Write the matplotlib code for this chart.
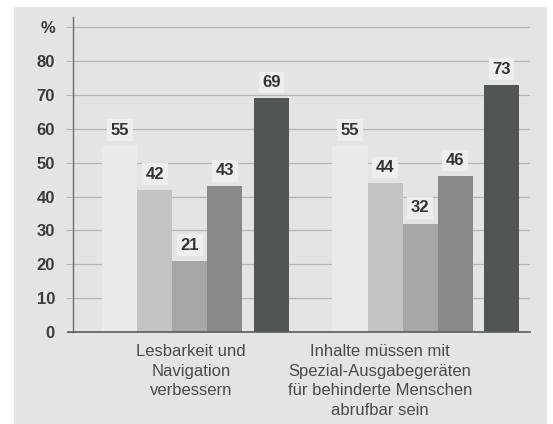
import matplotlib
matplotlib.use("Agg")
import matplotlib.pyplot as plt
from matplotlib.patches import Rectangle

# data
categories = ["Lesbarkeit und\nNavigation\nverbessern",
              "Inhalte müssen mit\nSpezial-Ausgabegeräten\nfür behinderte Menschen\nabrufbar sein"]
series_1 = [55, 55]
series_2 = [42, 44]
series_3 = [21, 32]
series_4 = [43, 46]
series_5 = [69, 73]
yticks = [0, 10, 20, 30, 40, 50, 60, 70, 80, 90]
ytick_labels = ["0", "10", "20", "30", "40", "50", "60", "70", "80", "%"]

series = [series_1, series_2, series_3, series_4, series_5]
colors = ["#eaeaea", "#c3c3c3", "#a7a7a7", "#878a89", "#515554"]
offsets = [0, 1, 2, 3, 4.33]
group_step = 6.57
bg = "#e4e4e4"

plt.rcParams["font.family"] = ["Liberation Sans", "DejaVu Sans"]

fig = plt.figure(figsize=(5.53, 4.24), dpi=100, facecolor="white")
fig.patches.append(Rectangle((14 / 553, 0), 533 / 553, 1 - 7 / 424,
                             transform=fig.transFigure, facecolor=bg,
                             edgecolor="none", zorder=-10))
ax = fig.add_axes([73 / 553, 1 - 332 / 424, 457 / 553, 315 / 424])
ax.patch.set_visible(False)

for s, vals in enumerate(series):
    xs = [g * group_step + offsets[s] for g in range(len(vals))]
    ax.bar(xs, vals, width=1.0, color=colors[s], zorder=2)
    for x, v in zip(xs, vals):
        ax.text(x, v + 2.4, str(v), ha="center", va="bottom", fontsize=12,
                fontweight="bold", color="#333333", zorder=4,
                bbox=dict(boxstyle="square,pad=0.2", facecolor="#eeeeee",
                          edgecolor="none"))

ax.set_xlim(-1.34, 11.71)
ax.set_ylim(0, 93)
ax.set_yticks(yticks)
ax.set_yticklabels(ytick_labels, fontsize=12, fontweight="bold", color="#3a3a3a")
ax.set_xticks([])
ax.yaxis.grid(True, color="#b5b5b5", linewidth=0.9, zorder=1)
ax.tick_params(axis="y", length=5, color="#b5b5b5", pad=8)
ax.set_axisbelow(True)

for side in ["top", "right"]:
    ax.spines[side].set_visible(False)
ax.spines["left"].set_color("#6e6e6e")
ax.spines["left"].set_linewidth(1.0)
ax.spines["bottom"].set_color("#5a5a5a")
ax.spines["bottom"].set_linewidth(1.2)
ax.spines["bottom"].set_bounds(-1.48, 11.71)

label_x = [2.03, 7.43]
for x, lab in zip(label_x, categories):
    ax.text(x, -3.6, lab, ha="center", va="top", fontsize=12,
            color="#4a4a4a", linespacing=1.38)

fig.savefig("out.png", dpi=100, facecolor=fig.get_facecolor())
